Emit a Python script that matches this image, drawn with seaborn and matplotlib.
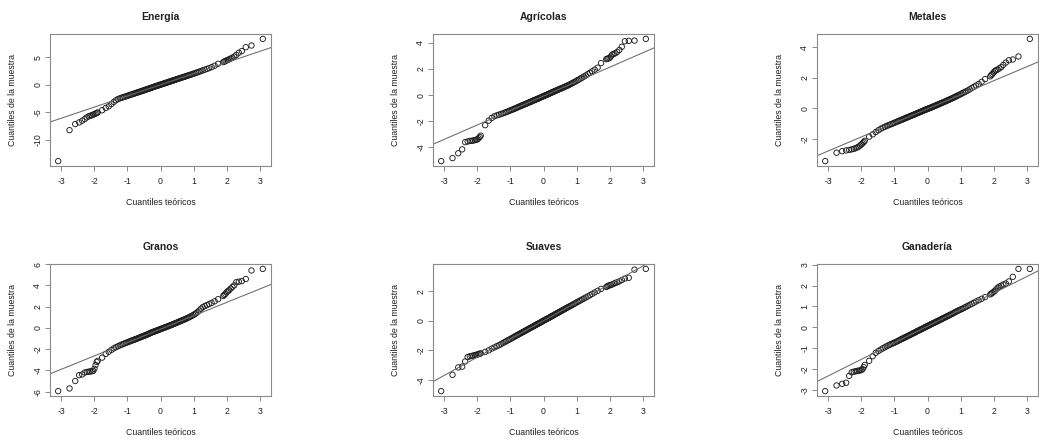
import matplotlib
matplotlib.use("Agg")
import matplotlib.pyplot as plt
import seaborn as sns
import pandas as pd
from statistics import NormalDist

# ---------------- data ----------------
titles = ["Energía", "Agrícolas", "Metales", "Granos", "Suaves", "Ganadería"]
x_label = "Cuantiles teóricos"
y_label = "Cuantiles de la muestra"
x_ticks = [-3, -2, -1, 0, 1, 2, 3]
y_ticks = [
    [-10, -5, 0, 5],
    [-4, -2, 0, 2, 4],
    [-2, 0, 2, 4],
    [-6, -4, -2, 0, 2, 4, 6],
    [-4, -2, 0, 2],
    [-3, -2, -1, 0, 1, 2, 3],
]

# number of observations per series and the ranks (order statistics) shown
n_obs = 500
ranks = list(range(1, 16)) + list(range(20, 481, 5)) + list(range(486, 501))

energia = [
    -13.8, -8.2, -7.1, -6.8, -6.5, -6.2, -5.9, -5.7, -5.6, -5.5, -5.4, -5.3, -5.2, -5.1, -5.0,
    -4.6, -4.2, -3.9, -3.5, -3.1, -2.8, -2.6, -2.45, -2.35, -2.25, -2.17,
    -2.08, -2.0, -1.92, -1.84, -1.76, -1.69, -1.62, -1.55, -1.48, -1.42, -1.36, -1.29, -1.23,
    -1.17, -1.11, -1.05, -0.99, -0.93, -0.87, -0.82, -0.76, -0.71, -0.65, -0.60, -0.54, -0.49,
    -0.44, -0.38, -0.33, -0.28, -0.23, -0.18, -0.13, -0.08, -0.03, 0.02,
    0.07, 0.12, 0.17, 0.22, 0.27, 0.32, 0.37, 0.42, 0.47, 0.53, 0.58, 0.63, 0.68, 0.74, 0.79,
    0.84, 0.9, 0.95, 1.01, 1.07, 1.12, 1.18, 1.24, 1.3, 1.36, 1.42, 1.48, 1.55, 1.62, 1.69,
    1.76, 1.83, 1.91, 1.99, 2.08, 2.17, 2.27, 2.37, 2.48, 2.6, 2.72, 2.86, 3.02, 3.2, 3.45, 3.8,
    4.1, 4.2, 4.3, 4.4, 4.5, 4.6, 4.75, 4.9, 5.1, 5.4, 5.8, 6.1, 6.8, 7.1, 8.3,
]
agricolas = [
    -5.05, -4.82, -4.45, -4.15, -3.6, -3.55, -3.5, -3.5, -3.47, -3.45, -3.42, -3.38, -3.3, -3.2, -3.1,
    -2.3, -1.95, -1.75, -1.62, -1.55, -1.5, -1.45, -1.4, -1.35, -1.3, -1.26,
    -1.21, -1.17, -1.13, -1.09, -1.05, -1.01, -0.97, -0.93, -0.89, -0.86, -0.82, -0.79, -0.76,
    -0.72, -0.69, -0.66, -0.63, -0.6, -0.57, -0.54, -0.51, -0.48, -0.45, -0.42, -0.39, -0.37,
    -0.34, -0.31, -0.28, -0.26, -0.23, -0.2, -0.17, -0.14, -0.11, -0.09,
    -0.06, -0.03, 0.0, 0.02, 0.05, 0.08, 0.11, 0.14, 0.17, 0.2, 0.23, 0.26, 0.29, 0.32, 0.35,
    0.38, 0.41, 0.44, 0.47, 0.5, 0.53, 0.56, 0.6, 0.63, 0.67, 0.7, 0.74, 0.78, 0.82, 0.87,
    0.92, 0.97, 1.02, 1.08, 1.14, 1.2, 1.27, 1.34, 1.42, 1.5, 1.6, 1.7, 1.82, 1.95, 2.1, 2.45,
    2.75, 2.78, 2.8, 2.85, 2.95, 3.1, 3.15, 3.2, 3.3, 3.45, 3.7, 4.12, 4.15, 4.17, 4.3,
]
metales = [
    -3.45, -2.9, -2.8, -2.75, -2.72, -2.68, -2.65, -2.6, -2.55, -2.5, -2.42, -2.35, -2.28, -2.2, -2.12,
    -1.85, -1.7, -1.55, -1.43, -1.33, -1.26, -1.2, -1.15, -1.1, -1.06, -1.02,
    -0.98, -0.94, -0.9, -0.87, -0.83, -0.8, -0.77, -0.74, -0.71, -0.68, -0.65, -0.62, -0.59,
    -0.57, -0.54, -0.51, -0.49, -0.46, -0.44, -0.41, -0.39, -0.36, -0.34, -0.31, -0.29, -0.27,
    -0.24, -0.22, -0.2, -0.17, -0.15, -0.13, -0.1, -0.08, -0.06, -0.04,
    -0.02, 0.01, 0.03, 0.05, 0.07, 0.1, 0.12, 0.14, 0.17, 0.19, 0.21, 0.24, 0.26, 0.29, 0.31,
    0.34, 0.36, 0.39, 0.42, 0.44, 0.47, 0.5, 0.53, 0.56, 0.59, 0.62, 0.65, 0.69, 0.72, 0.76,
    0.8, 0.84, 0.88, 0.92, 0.97, 1.02, 1.07, 1.12, 1.18, 1.25, 1.33, 1.41, 1.5, 1.6, 1.74, 1.92,
    2.1, 2.18, 2.25, 2.35, 2.45, 2.5, 2.55, 2.62, 2.7, 2.85, 3.0, 3.15, 3.2, 3.4, 4.55,
]
granos = [
    -5.95, -5.7, -5.0, -4.45, -4.38, -4.2, -4.15, -4.12, -4.1, -4.08, -4.05, -3.85, -3.5, -3.2, -3.1,
    -2.8, -2.45, -2.25, -2.07, -1.93, -1.82, -1.73, -1.65, -1.58, -1.52, -1.46,
    -1.41, -1.36, -1.31, -1.26, -1.21, -1.17, -1.13, -1.09, -1.05, -1.01, -0.97, -0.93, -0.89,
    -0.86, -0.82, -0.78, -0.75, -0.71, -0.68, -0.64, -0.61, -0.57, -0.53, -0.49, -0.45, -0.42,
    -0.39, -0.36, -0.33, -0.3, -0.27, -0.24, -0.21, -0.18, -0.15, -0.12,
    -0.09, -0.06, -0.03, 0.0, 0.03, 0.06, 0.09, 0.12, 0.15, 0.18, 0.21, 0.25, 0.28, 0.31, 0.35,
    0.38, 0.42, 0.45, 0.49, 0.53, 0.57, 0.61, 0.65, 0.69, 0.73, 0.77, 0.81, 0.86, 0.91, 0.96,
    1.02, 1.08, 1.14, 1.21, 1.29, 1.38, 1.5, 1.63, 1.8, 1.95, 2.05, 2.14, 2.24, 2.35, 2.5, 2.7,
    3.0, 3.1, 3.2, 3.35, 3.45, 3.55, 3.7, 3.85, 4.0, 4.3, 4.35, 4.4, 4.6, 5.4, 5.55,
]
suaves = [
    -4.75, -3.65, -3.15, -3.1, -2.75, -2.45, -2.4, -2.38, -2.35, -2.32, -2.3, -2.28, -2.25, -2.22, -2.2,
    -2.1, -2.0, -1.88, -1.8, -1.72, -1.65, -1.58, -1.51, -1.45, -1.39, -1.33,
    -1.28, -1.23, -1.18, -1.13, -1.08, -1.04, -0.99, -0.95, -0.91, -0.87, -0.83, -0.79, -0.76,
    -0.72, -0.68, -0.65, -0.61, -0.58, -0.54, -0.51, -0.48, -0.44, -0.41, -0.38, -0.35, -0.31,
    -0.28, -0.25, -0.22, -0.19, -0.16, -0.13, -0.1, -0.06, -0.03, 0.0,
    0.03, 0.06, 0.09, 0.12, 0.15, 0.18, 0.21, 0.24, 0.28, 0.31, 0.34, 0.37, 0.41, 0.44, 0.47,
    0.51, 0.54, 0.57, 0.61, 0.64, 0.68, 0.72, 0.75, 0.79, 0.83, 0.87, 0.91, 0.95, 0.99, 1.03,
    1.08, 1.12, 1.17, 1.22, 1.27, 1.33, 1.38, 1.44, 1.5, 1.57, 1.64, 1.72, 1.81, 1.91, 2.02, 2.15,
    2.28, 2.32, 2.36, 2.39, 2.42, 2.45, 2.5, 2.55, 2.6, 2.66, 2.75, 2.85, 2.9, 3.45, 3.5,
]
ganaderia = [
    -3.05, -2.78, -2.7, -2.65, -2.32, -2.15, -2.12, -2.1, -2.08, -2.07, -2.06, -2.04, -2.0, -1.9, -1.8,
    -1.6, -1.38, -1.22, -1.13, -1.06, -1.0, -0.95, -0.9, -0.86, -0.82, -0.79,
    -0.76, -0.73, -0.7, -0.67, -0.64, -0.61, -0.58, -0.55, -0.53, -0.5, -0.48, -0.45, -0.43,
    -0.41, -0.38, -0.36, -0.34, -0.31, -0.29, -0.27, -0.25, -0.23, -0.2, -0.18, -0.16, -0.14,
    -0.12, -0.1, -0.08, -0.06, -0.04, -0.02, 0.0, 0.02, 0.04, 0.06,
    0.08, 0.1, 0.12, 0.14, 0.16, 0.18, 0.2, 0.22, 0.24, 0.26, 0.28, 0.3, 0.32, 0.34, 0.36,
    0.38, 0.41, 0.43, 0.45, 0.47, 0.5, 0.52, 0.54, 0.57, 0.59, 0.62, 0.64, 0.67, 0.7, 0.73,
    0.76, 0.79, 0.82, 0.85, 0.88, 0.91, 0.95, 0.99, 1.03, 1.08, 1.13, 1.18, 1.24, 1.3, 1.37, 1.45,
    1.58, 1.62, 1.65, 1.7, 1.75, 1.82, 1.9, 1.95, 2.0, 2.05, 2.1, 2.2, 2.42, 2.8, 2.8,
]
series = [energia, agricolas, metales, granos, suaves, ganaderia]

# ---------------- style ----------------
sns.set_theme(style="white")
plt.rcParams["font.family"] = ["Liberation Sans", "DejaVu Sans"]

FS = 6.3
frame_c = "#8a8a8a"
text_c = "#222222"
pt_c = "#1e1e1e"
line_c = "#6a6a6a"

fig = plt.figure(figsize=(10.39, 4.41), dpi=100)
W, H = 1039, 441
lefts = [50, 433, 817]
tops = [34, 264]
bw, bh = 221, 132

nd = NormalDist()
theo = [nd.inv_cdf((r - 0.5) / n_obs) for r in ranks]
q1, q3 = nd.inv_cdf(0.25), nd.inv_cdf(0.75)

for i, (title, vals, yt) in enumerate(zip(titles, series, y_ticks)):
    row, col = divmod(i, 3)
    ax = fig.add_axes([lefts[col] / W, 1 - (tops[row] + bh) / H, bw / W, bh / H])
    df = pd.DataFrame({"teo": theo, "muestra": vals})
    sns.scatterplot(data=df, x="teo", y="muestra", ax=ax, marker="o", s=15,
                    color="none", edgecolor=pt_c, linewidth=0.65, legend=False)
    ax.margins(x=0.04, y=0.04)
    ax.autoscale_view()
    ax.set_autoscale_on(False)
    # reference line through first and third quartiles (like qqline)
    lookup = dict(zip(ranks, vals))
    y1, y3 = lookup[125], lookup[375]
    ax.axline((q1, y1), (q3, y3), color=line_c, lw=0.75)

    ax.set_xticks(x_ticks)
    ax.set_yticks(yt)
    ax.set_xticklabels([str(t) for t in x_ticks])
    ax.set_yticklabels([str(t) for t in yt], rotation=90, va="center")
    ax.tick_params(axis="both", which="major", direction="out", length=3.6, width=0.7,
                   color=frame_c, labelsize=FS, labelcolor=text_c, pad=4,
                   bottom=True, left=True, top=False, right=False)
    ax.tick_params(axis="y", pad=2)
    for sp in ax.spines.values():
        sp.set_visible(True)
        sp.set_color(frame_c)
        sp.set_linewidth(0.8)
    ax.set_title(title, fontsize=7.5, fontweight="bold", color=text_c, pad=10)
    ax.set_xlabel(x_label, fontsize=FS, color=text_c, labelpad=9)
    ax.set_ylabel(y_label, fontsize=FS, color=text_c, labelpad=12)
    ax.grid(False)

fig.savefig("out.png", dpi=100, facecolor="white")
